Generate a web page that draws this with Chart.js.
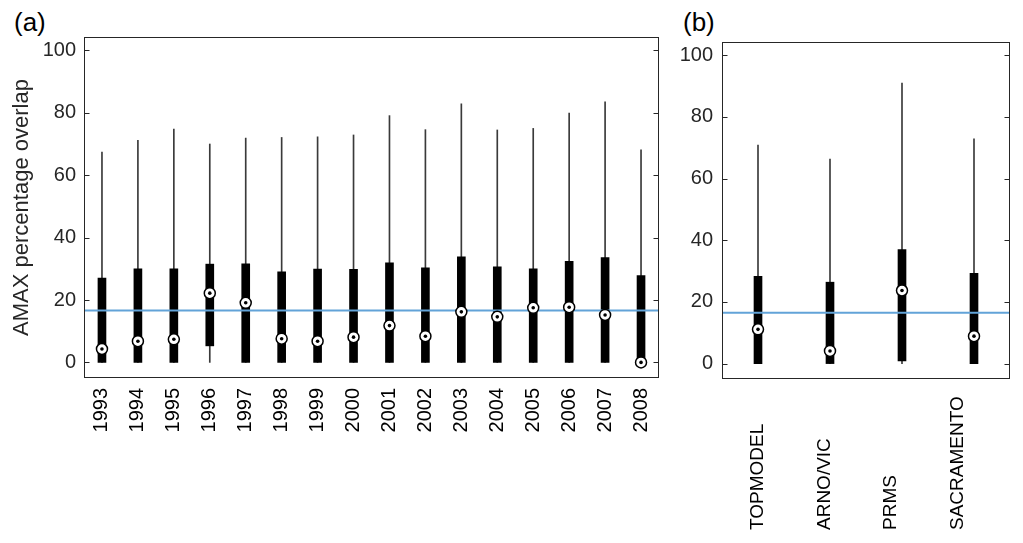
<!DOCTYPE html>
<html>
<head>
<meta charset="utf-8">
<script src="https://cdn.jsdelivr.net/npm/chart.js@4/dist/chart.umd.min.js"></script>
<style>
  html, body { margin:0; padding:0; background:#fff; width:1023px; height:543px; overflow:hidden; }
  .panel { position:absolute; top:0; }
  .tag { position:absolute; font-family:"Liberation Sans", Arial, sans-serif; font-size:26px; color:#000; line-height:1; }
</style>
</head>
<body>
<div class="tag" style="left:14px; top:9px;">(a)</div>
<div class="tag" style="left:683px; top:9px;">(b)</div>
<div class="panel" style="left:0; width:670px; height:543px;"><canvas id="ca" width="670" height="543"></canvas></div>
<div class="panel" style="left:670px; width:353px; height:543px;"><canvas id="cb" width="353" height="543"></canvas></div>
<script>
// ---- data ----
const years = ['1993','1994','1995','1996','1997','1998','1999','2000','2001','2002','2003','2004','2005','2006','2007','2008'];
const yrMin = [0,0,0,0,0,0,0,0,0,0,0,0,0,0,0,0];
const yrQ1  = [0,0,0,5.3,0,0,0,0,0,0,0,0,0,0,0,0];
const yrMed = [4.3,6.8,7.4,22.2,19.1,7.6,6.8,8.1,11.8,8.4,16.2,14.6,17.5,17.7,15.2,0];
const yrQ3  = [27.0,30.0,30.0,31.5,31.6,29.0,29.9,29.8,31.9,30.3,33.8,30.6,30.0,32.4,33.6,27.8];
const yrMax = [67.4,71.2,74.8,70.0,71.9,72.1,72.3,72.9,79.1,74.6,82.9,74.5,75.0,79.9,83.5,68.1];
const yrRef = 16.6;

const models = ['TOPMODEL','ARNO/VIC','PRMS','SACRAMENTO'];
const mdMin = [0,0,0,0];
const mdQ1  = [0,0,0.9,0];
const mdMed = [11.1,4.1,23.7,8.9];
const mdQ3  = [28.3,26.4,37.0,29.3];
const mdMax = [70.9,66.3,91.0,72.9];
const mdRef = 16.5;

const yTicks = [0,20,40,60,80,100];
const yTitle = 'AMAX percentage overlap';

const FONT = '"Liberation Sans", Arial, Helvetica, sans-serif';
const AXC = '#262626';
const REFC = '#62a3d8';

const framePlugin = {
  id: 'frame',
  afterDatasetsDraw(chart) {
    const a = chart.chartArea, ctx = chart.ctx, ys = chart.scales.y;
    ctx.save();
    ctx.strokeStyle = AXC; ctx.lineWidth = 1;
    const L = Math.round(a.left) + 0.5, R = Math.round(a.right) - 0.5;
    const T = Math.round(a.top) + 0.5, B = Math.round(a.bottom) - 0.5;
    ctx.strokeRect(L, T, R - L, B - T);
    ctx.beginPath();
    yTicks.forEach(v => {
      const y = Math.round(ys.getPixelForValue(v)) + 0.5;
      ctx.moveTo(L, y); ctx.lineTo(L + 5, y);
      ctx.moveTo(R, y); ctx.lineTo(R - 5, y);
    });
    ctx.stroke();
    ctx.restore();
  }
};

function buildDatasets(mins, q1s, meds, q3s, maxs, ref) {
  return [
    { type:'bar', data: mins.map((m,i)=>[m, maxs[i]]), backgroundColor:'#3a3a3a', barThickness:1, grouped:false, order:5, xAxisID:'x', yAxisID:'y' },
    { type:'bar', data: q1s.map((q,i)=>[q, q3s[i]]), backgroundColor:'#000', barThickness:8, grouped:false, order:4, xAxisID:'x', yAxisID:'y' },
    { type:'line', data:[{x:0,y:ref},{x:1,y:ref}], borderColor:REFC, borderWidth:2, pointRadius:0, order:3, xAxisID:'xl', yAxisID:'y' },
    { type:'line', data: meds, showLine:false, pointRadius:5.5, pointBorderWidth:1.5, pointBackgroundColor:'#fff', pointBorderColor:'#000', order:2, xAxisID:'x', yAxisID:'y' },
    { type:'line', data: meds, showLine:false, pointRadius:1.8, pointBorderWidth:0, pointBackgroundColor:'#000', order:1, xAxisID:'x', yAxisID:'y' }
  ];
}

function buildOptions(o) {
  return {
    responsive:false, animation:false, devicePixelRatio:1,
    layout:{ padding:{ top:o.top, right:o.right, left:0, bottom:0 } },
    plugins:{ legend:{display:false}, tooltip:{enabled:false} },
    scales:{
      x:{ type:'category', offset:true,
          grid:{display:false, drawTicks:false}, border:{display:false},
          ticks:{ display:o.xTicks, autoSkip:false, minRotation:90, maxRotation:90, padding:10, color:'#000', font:{family:FONT, size:20} },
          afterFit(s){ s.height = o.xHeight; s.paddingLeft = 0; s.paddingRight = 0; } },
      xl:{ type:'linear', display:false, min:0, max:1, offset:false, grid:{offset:false} },
      y:{ type:'linear', min:-5, max:104.3, position:'left',
          afterBuildTicks(s){ s.ticks = yTicks.map(v=>({value:v})); },
          grid:{display:false, drawTicks:false}, border:{display:false},
          ticks:{ padding:o.yPad, color:AXC, font:{family:FONT, size:20} },
          title:{ display:o.title, text:yTitle, color:AXC, font:{family:FONT, size:22}, padding:{top:9,bottom:0} },
          afterFit(s){ s.width = o.yWidth; s.paddingTop = 0; s.paddingBottom = 0; } }
    }
  };
}

new Chart(document.getElementById('ca'), {
  type:'bar',
  data:{ labels: years, datasets: buildDatasets(yrMin, yrQ1, yrMed, yrQ3, yrMax, yrRef) },
  options: buildOptions({ top:37, right:11, xHeight:165, yWidth:84, yPad:8, title:true, xTicks:true }),
  plugins:[framePlugin]
});

const modelLabelPlugin = {
  id:'modelLabels',
  afterDraw(chart){
    const xs = chart.scales.x, ctx = chart.ctx;
    ctx.save();
    ctx.font = '19px ' + FONT; ctx.fillStyle = '#000';
    ctx.textAlign = 'left'; ctx.textBaseline = 'middle';
    models.forEach((m,i)=>{
      const x = xs.getPixelForValue(i) - i*5.5;
      ctx.save(); ctx.translate(x, 530); ctx.rotate(-Math.PI/2); ctx.fillText(m, 0, 0); ctx.restore();
    });
    ctx.restore();
  }
};

new Chart(document.getElementById('cb'), {
  type:'bar',
  data:{ labels: models, datasets: buildDatasets(mdMin, mdQ1, mdMed, mdQ3, mdMax, mdRef) },
  options: buildOptions({ top:42, right:13, xHeight:164, yWidth:52, yPad:9, title:false, xTicks:false }),
  plugins:[framePlugin, modelLabelPlugin]
});
</script>
</body>
</html>
